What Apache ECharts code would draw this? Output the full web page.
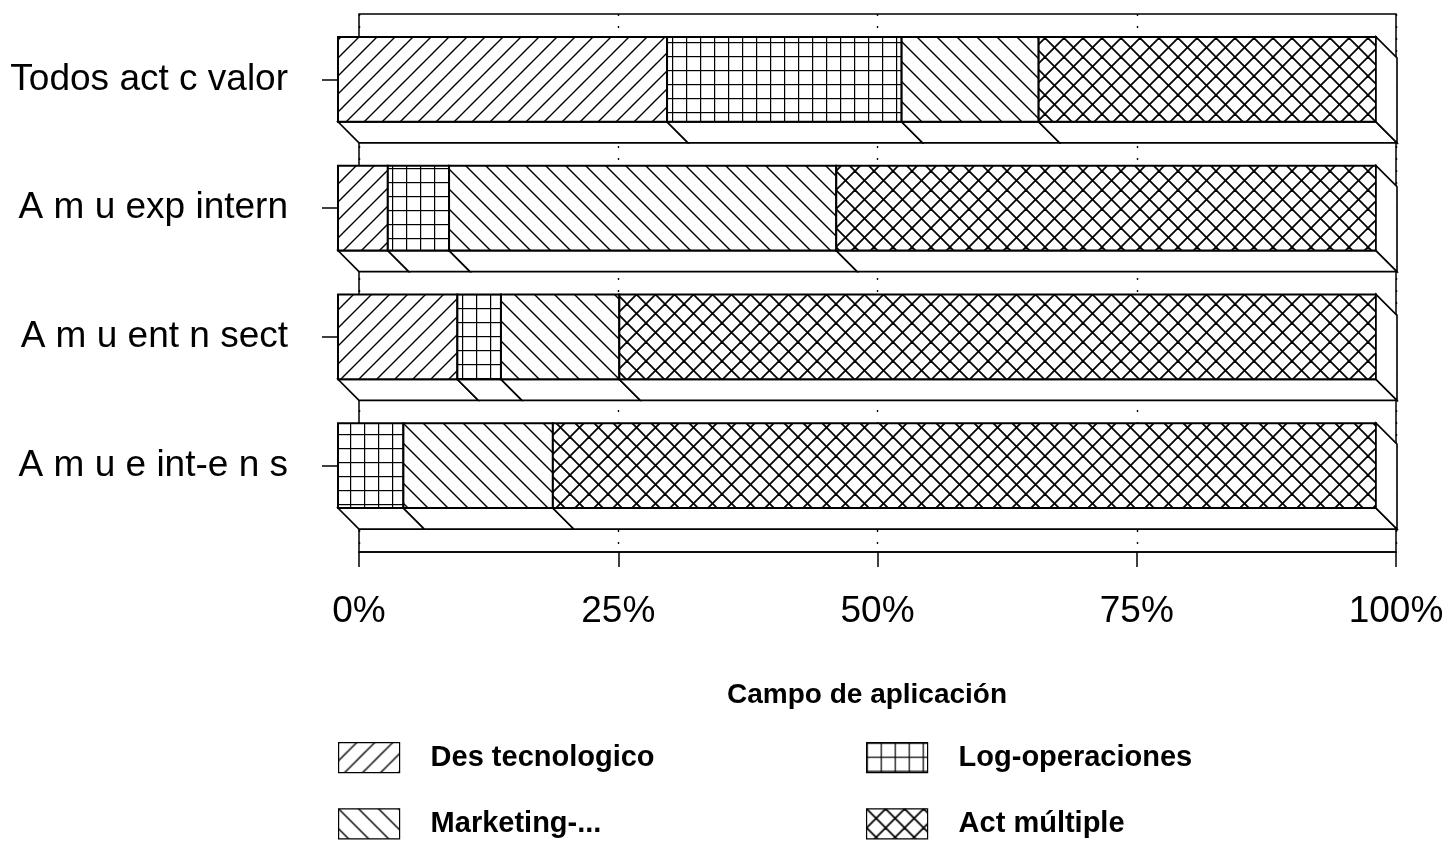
<!DOCTYPE html>
<html>
<head>
<meta charset="utf-8">
<title>Campo de aplicación</title>
<script src="https://cdn.jsdelivr.net/npm/echarts/dist/echarts.min.js"></script>
<style>
  html, body { margin: 0; padding: 0; background: #fff; }
  #chart { width: 1449px; height: 841px; }
</style>
</head>
<body>
<div id="chart"></div>
<script>
// Categories (top to bottom) and share of each field of application, in percent
const categories = ['Todos act c valor', 'A m u exp intern', 'A m u ent n sect', 'A m u e int-e n s'];
const desTecnologico = [31.7, 4.8, 11.5, 0];
const logOperaciones = [22.6, 5.9, 4.2, 6.3];
const marketing = [13.2, 37.3, 11.4, 14.4];
const actMultiple = [32.5, 52.0, 72.9, 79.3];
const seriesNames = ['Des tecnologico', 'Log-operaciones', 'Marketing-...', 'Act múltiple'];
const legendTitle = 'Campo de aplicación';

const FONT = "'Liberation Sans', Arial, Helvetica, sans-serif";
const DEPTH = 21; // depth offset of the pseudo-3D bars, px

// Monochrome hatch fills drawn on small tiles
function makePattern(kind) {
  const sizes = { fwd: 18, back: 20, grid: 14, cross: 19 };
  const s = sizes[kind];
  const c = document.createElement('canvas');
  c.width = s; c.height = s;
  const g = c.getContext('2d');
  g.fillStyle = '#fff';
  g.fillRect(0, 0, s, s);
  g.strokeStyle = '#000';
  g.lineCap = 'square';
  const line = (x1, y1, x2, y2) => { g.beginPath(); g.moveTo(x1, y1); g.lineTo(x2, y2); g.stroke(); };
  if (kind === 'fwd' || kind === 'cross') {
    g.lineWidth = kind === 'cross' ? 1.8 : 1.4;
    line(-1, s + 1, s + 1, -1);
    line(-1, 1, 1, -1);
    line(s - 1, s + 1, s + 1, s - 1);
  }
  if (kind === 'back' || kind === 'cross') {
    g.lineWidth = kind === 'cross' ? 1.8 : 1.4;
    line(-1, -1, s + 1, s + 1);
    line(s - 1, -1, s + 1, 1);
    line(-1, s - 1, 1, s + 1);
  }
  if (kind === 'grid') {
    g.lineWidth = 1.4;
    line(0.5, 0, 0.5, s);
    line(0, 0.5, s, 0.5);
  }
  return { image: c, repeat: 'repeat' };
}

const patterns = [makePattern('fwd'), makePattern('grid'), makePattern('back'), makePattern('cross')];
const seriesValues = [desTecnologico, logOperaciones, marketing, actMultiple];

// Build [categoryIndex, start, end] for each stacked segment
const starts = categories.map(() => 0);
const seriesData = seriesValues.map(vals => vals.map((v, i) => {
  const item = [i, starts[i], starts[i] + v];
  starts[i] += v;
  return item;
}));

function boxRenderer(seriesIdx) {
  const isLast = seriesIdx === seriesValues.length - 1;
  return function (params, api) {
    const cat = api.value(0), start = api.value(1), end = api.value(2);
    if (end - start <= 0) return;
    const p0 = api.coord([start, cat]);
    const p1 = api.coord([end, cat]);
    const h = api.size([0, 1])[1] * 0.66;
    const x0 = p0[0], x1 = p1[0];
    const yt = p0[1] - h / 2, yb = p0[1] + h / 2;
    const children = [
      {
        type: 'polygon',
        shape: { points: [[x0, yb], [x1, yb], [x1 + DEPTH, yb + DEPTH], [x0 + DEPTH, yb + DEPTH]] },
        style: { fill: '#fff', stroke: '#000', lineWidth: 1.6 }
      },
      {
        type: 'rect',
        shape: { x: x0, y: yt, width: x1 - x0, height: h },
        style: { fill: patterns[seriesIdx], stroke: '#000', lineWidth: 2 }
      }
    ];
    if (isLast) {
      children.push({
        type: 'polygon',
        shape: { points: [[x1, yt], [x1 + DEPTH, yt + DEPTH], [x1 + DEPTH, yb + DEPTH], [x1, yb]] },
        style: { fill: '#fff', stroke: '#000', lineWidth: 1.6 }
      });
    }
    return { type: 'group', children };
  };
}

const chart = echarts.init(document.getElementById('chart'), null, { renderer: 'canvas' });

const legendText = { fontSize: 29, fontWeight: 'bold', color: '#000', fontFamily: FONT, padding: [0, 0, 0, 26] };
const legendBase = {
  orient: 'vertical', icon: 'rect', itemWidth: 61, itemHeight: 30, itemGap: 35,
  selectedMode: false, padding: 0, textStyle: legendText,
  itemStyle: { borderColor: '#000', borderWidth: 1.2 }
};

chart.setOption({
  animation: false,
  backgroundColor: '#fff',
  title: {
    text: legendTitle, left: 727, top: 681, padding: 0,
    textStyle: { fontSize: 28, fontWeight: 'bold', color: '#000', fontFamily: FONT }
  },
  legend: [
    Object.assign({}, legendBase, { data: [seriesNames[0], seriesNames[2]], left: 338, top: 742 }),
    Object.assign({}, legendBase, { data: [seriesNames[1], seriesNames[3]], left: 866, top: 742 })
  ],
  grid: [
    { left: 338, width: 1038, top: 15, height: 515 },
    { left: 359, width: 1037, top: 14, height: 538, show: true, borderColor: '#000', borderWidth: 1.5, backgroundColor: 'transparent' }
  ],
  xAxis: [
    { gridIndex: 0, type: 'value', min: 0, max: 100, show: false },
    {
      gridIndex: 1, type: 'value', min: 0, max: 100, interval: 25,
      axisLine: { show: true, lineStyle: { color: '#000', width: 1.5 } },
      axisTick: { show: true, length: 15, lineStyle: { color: '#000', width: 1.5 } },
      axisLabel: { formatter: '{value}%', fontSize: 37, margin: 41, color: '#000', fontFamily: FONT },
      splitLine: { show: true, lineStyle: { color: '#000', width: 1.4, type: [2, 10] } }
    }
  ],
  yAxis: [
    {
      gridIndex: 0, type: 'category', data: categories, inverse: true,
      axisLine: { show: false },
      axisTick: { show: true, alignWithLabel: true, length: 16, lineStyle: { color: '#000', width: 1.5 } },
      axisLabel: { fontSize: 37, margin: 50, color: '#000', fontFamily: FONT },
      splitLine: { show: false }
    },
    { gridIndex: 1, type: 'value', min: 0, max: 1, show: false, splitLine: { show: false } }
  ],
  series: seriesNames.map((name, k) => ({
    name,
    type: 'custom',
    xAxisIndex: 0,
    yAxisIndex: 0,
    silent: true,
    itemStyle: { color: patterns[k], borderColor: '#000', borderWidth: 1.2 },
    encode: { x: [1, 2], y: 0 },
    renderItem: boxRenderer(k),
    data: seriesData[k]
  }))
});
</script>
</body>
</html>
